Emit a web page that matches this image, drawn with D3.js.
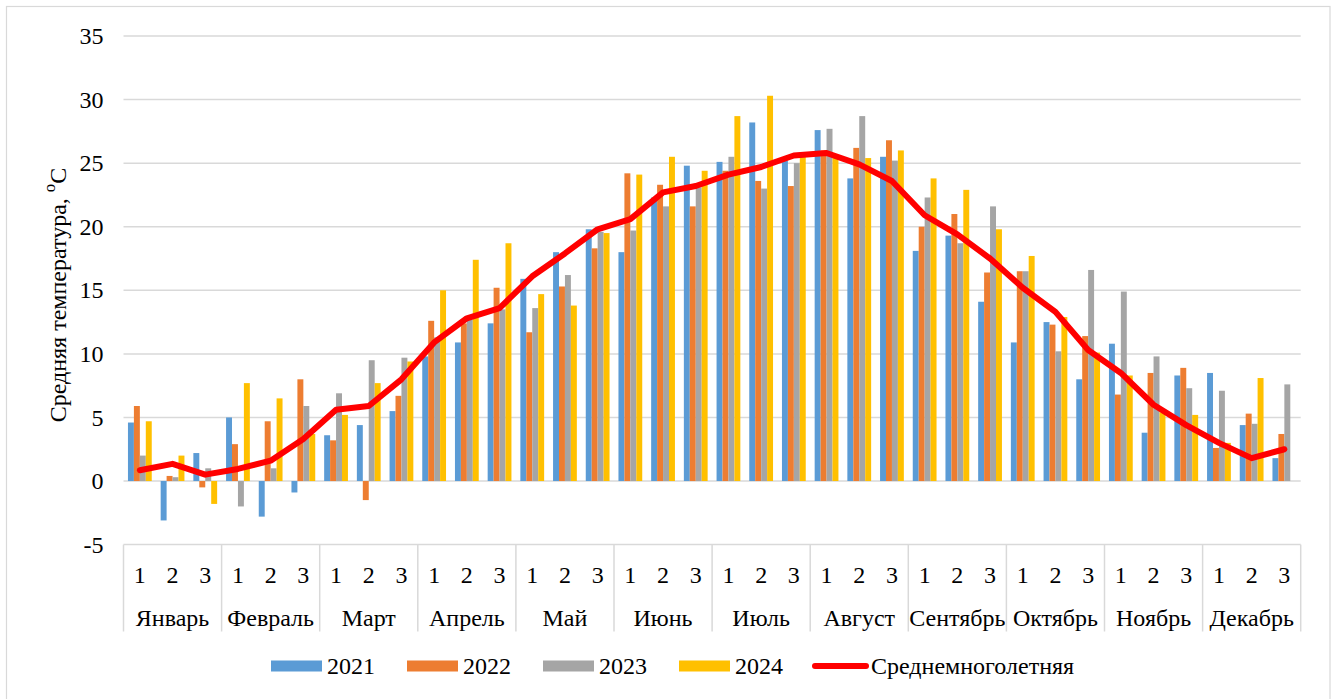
<!DOCTYPE html>
<html>
<head>
<meta charset="utf-8">
<script src="https://cdn.jsdelivr.net/npm/d3@7"></script>
<style>
  html, body { margin: 0; padding: 0; background: #fff; }
  svg { display: block; }
  text { font-family: "Liberation Serif", "Times New Roman", serif; fill: #000; }
</style>
</head>
<body>
<svg id="chart" width="1338" height="699"></svg>
<script>
// ---- data ----
const months = ["Январь","Февраль","Март","Апрель","Май","Июнь","Июль","Август","Сентябрь","Октябрь","Ноябрь","Декабрь"];
const dekads = ["1","2","3"];
const seriesNames = ["2021","2022","2023","2024"];
const lineName = "Среднемноголетняя";
const yTicks = [-5,0,5,10,15,20,25,30,35];

const v2021 = [4.6,-3.1,2.2, 5.0,-2.8,-0.9, 3.6,4.4,5.5, 9.8,10.9,12.4, 15.9,18.0,19.8, 18.0,22.3,24.8, 25.1,28.2,25.2, 27.6,23.8,25.5, 18.1,19.3,14.1, 10.9,12.5,8.0, 10.8,3.8,8.3, 8.5,4.4,1.8];
const v2022 = [5.9,0.4,-0.5, 2.9,4.7,8.0, 3.2,-1.5,6.7, 12.6,12.4,15.2, 11.7,15.3,18.3, 24.2,23.3,21.6, 24.4,23.6,23.2, 26.0,26.2,26.8, 20.0,21.0,16.4, 16.5,12.3,11.4, 6.8,8.5,8.9, 2.6,5.3,3.7];
const v2023 = [2.0,0.3,1.0, -2.0,1.0,5.9, 6.9,9.5,9.7, 11.3,12.7,13.5, 13.6,16.2,19.6, 19.7,21.6,23.1, 25.5,23.0,25.0, 27.7,28.7,25.2, 22.3,18.7,21.6, 16.5,10.2,16.6, 14.9,9.8,7.3, 7.1,4.5,7.6];
const v2024 = [4.7,2.0,-1.8, 7.7,6.5,3.7, 5.2,7.7,9.4, 15.0,17.4,18.7, 14.7,13.8,19.5, 24.1,25.5,24.4, 28.7,30.3,25.5, 25.4,25.4,26.0, 23.8,22.9,19.8, 17.7,12.9,10.1, 8.3,5.4,5.2, 3.0,8.1,null];
const vMean = [0.85,1.35,0.5, 0.95,1.6,3.3, 5.6,5.9,8.0, 10.9,12.8,13.6, 16.1,17.9,19.8, 20.6,22.7,23.2, 24.1,24.7,25.6, 25.8,24.9,23.6, 20.9,19.4,17.5, 15.2,13.3,10.3, 8.5,6.0,4.4, 3.0,1.8,2.5];

const colors = ["#5B9BD5","#ED7D31","#A5A5A5","#FFC000"];
const lineColor = "#FF0000";

// ---- build ----
const seriesValues = [v2021, v2022, v2023, v2024];
const ids = [];
months.forEach((m, mi) => dekads.forEach((d, di) => ids.push(mi * 3 + di)));

const svg = d3.select("#chart");
const L = 123.5, R = 1300.7, T = 36, B = 544.6;

// chart frame
svg.append("rect").attr("x", 6.5).attr("y", 6.5).attr("width", 1323.5).attr("height", 700)
  .attr("fill", "none").attr("stroke", "#d9d9d9").attr("stroke-width", 1.2);

const x0 = d3.scaleBand().domain(ids).range([L, R]).padding(0);
const x1 = d3.scaleBand().domain(seriesNames).range([0, x0.bandwidth()]).paddingInner(0).paddingOuter(0.75);
const y = d3.scaleLinear().domain([-5, 35]).range([B, T]);

// gridlines
svg.append("g").selectAll("line").data(yTicks).join("line")
  .attr("x1", L).attr("x2", R)
  .attr("y1", d => y(d)).attr("y2", d => y(d))
  .attr("stroke", "#d9d9d9").attr("stroke-width", 1.5);

// y axis labels
const yAxis = d3.axisLeft(y).tickValues(yTicks).tickSize(0).tickPadding(20).tickFormat(d => String(d));
const gy = svg.append("g").attr("transform", `translate(${L},0)`).call(yAxis);
gy.attr("font-family", null).attr("font-size", null);
gy.select(".domain").remove();
gy.selectAll("text").style("font-family", "'Liberation Serif', serif").style("font-size", "24px").attr("fill", "#000");

// bars
const barData = [];
ids.forEach(i => seriesNames.forEach((s, si) => {
  const v = seriesValues[si][i];
  if (v !== null && v !== undefined) barData.push({ i, s, si, v });
}));
svg.append("g").selectAll("rect").data(barData).join("rect")
  .attr("x", d => x0(d.i) + x1(d.s))
  .attr("width", x1.bandwidth())
  .attr("y", d => y(Math.max(0, d.v)))
  .attr("height", d => Math.abs(y(d.v) - y(0)))
  .attr("fill", d => colors[d.si]);

// mean line
const line = d3.line().x(i => x0(i) + x0.bandwidth() / 2).y(i => y(vMean[i]));
svg.append("path").datum(ids).attr("d", line)
  .attr("fill", "none").attr("stroke", lineColor).attr("stroke-width", 6)
  .attr("stroke-linejoin", "round").attr("stroke-linecap", "round");

// category axis (multi-level)
const axisG = svg.append("g");
const sepBottom = 631.5;
months.forEach((m, mi) => {
  const xs = x0(mi * 3);
  axisG.append("line").attr("x1", xs).attr("x2", xs).attr("y1", B).attr("y2", sepBottom)
    .attr("stroke", "#d9d9d9").attr("stroke-width", 1.5);
  const xm = xs + x0.bandwidth() * 1.5;
  axisG.append("text").attr("x", xm).attr("y", 618).attr("text-anchor", "middle")
    .attr("dominant-baseline", "central").style("font-size", "24px").text(m);
});
axisG.append("line").attr("x1", R).attr("x2", R).attr("y1", B).attr("y2", sepBottom)
  .attr("stroke", "#d9d9d9").attr("stroke-width", 1.5);
ids.forEach(i => {
  axisG.append("text").attr("x", x0(i) + x0.bandwidth() / 2).attr("y", 575)
    .attr("text-anchor", "middle").attr("dominant-baseline", "central")
    .style("font-size", "24px").text(dekads[i % 3]);
});

// y axis title
const yt = svg.append("text").attr("transform", "translate(58,295) rotate(-90)")
  .attr("text-anchor", "middle").attr("dominant-baseline", "central").style("font-size", "24px");
yt.append("tspan").text("Средняя температура, ");
yt.append("tspan").attr("dy", -9).style("font-size", "17px").text("о");
yt.append("tspan").attr("dy", 9).text("С");

// legend
const lg = svg.append("g");
const legY = 666;
seriesNames.forEach((s, si) => {
  const lx = 271 + si * 136;
  lg.append("rect").attr("x", lx).attr("y", legY - 5.5).attr("width", 51).attr("height", 11).attr("fill", colors[si]);
  lg.append("text").attr("x", lx + 56).attr("y", legY).attr("dominant-baseline", "central")
    .style("font-size", "24px").text(s);
});
lg.append("line").attr("x1", 815).attr("x2", 866).attr("y1", legY).attr("y2", legY)
  .attr("stroke", lineColor).attr("stroke-width", 6).attr("stroke-linecap", "round");
lg.append("text").attr("x", 871).attr("y", legY).attr("dominant-baseline", "central")
  .style("font-size", "24px").text(lineName);
</script>
</body>
</html>
